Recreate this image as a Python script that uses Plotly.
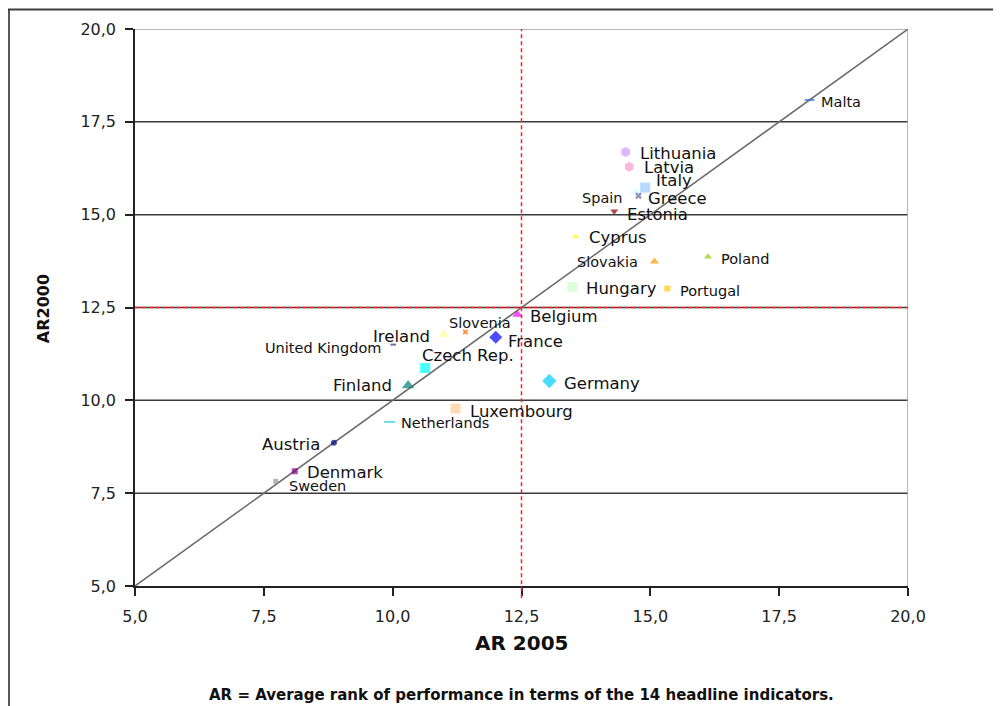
import plotly.graph_objects as go

# ---- data ----
countries = ["Malta", "Lithuania", "Latvia", "Italy", "Greece", "Spain", "Estonia",
             "Cyprus", "Slovakia", "Poland", "Hungary", "Portugal", "Belgium",
             "Slovenia", "Ireland", "France", "United Kingdom", "Czech Rep.",
             "Finland", "Germany", "Luxembourg", "Netherlands", "Austria",
             "Denmark", "Sweden"]
ar2005 = [18.09, 14.52, 14.59, 14.90, 14.71, 14.77, 14.30,
          13.55, 15.08, 16.12, 13.49, 15.33, 12.42,
          11.41, 10.99, 12.00, 10.01, 10.63,
          10.30, 13.04, 11.22, 9.94, 8.86,
          8.10, 7.73]
ar2000 = [18.09, 16.69, 16.29, 15.73, 15.62, 15.51, 15.09,
          14.41, 13.74, 13.87, 13.05, 13.01, 12.31,
          11.84, 11.77, 11.70, 11.50, 10.87,
          10.40, 10.52, 9.78, 9.42, 8.86,
          8.09, 7.82]
tick_vals = [5.0, 7.5, 10.0, 12.5, 15.0, 17.5, 20.0]
grid_vals = [7.5, 10.0, 12.5, 15.0, 17.5]
reference_value = 12.5
axis_min, axis_max = 5.0, 20.0

# ---- styles ----
colors = ["#3366CC", "#CC99FF", "#FF99CC", "#99CCFF", "#CCFFFF", "#666699", "#800000",
          "#FFFF00", "#FF9900", "#99CC00", "#CCFFCC", "#FFCC00", "#FF00FF",
          "#FF6600", "#FFFF99", "#0000FF", "#333399", "#00FFFF",
          "#008080", "#00CCFF", "#FFCC99", "#33CCCC", "#000080",
          "#800080", "#969696"]
symbols = ["line-ew", "hexagon", "hexagon", "square", "triangle-up", "x", "triangle-down",
           "triangle-up", "triangle-up", "triangle-up", "square", "square", "triangle-up",
           "x", "triangle-up", "diamond", "line-ew", "square",
           "triangle-up", "diamond", "square", "line-ew", "circle",
           "square", "square"]
sizes = [7, 10, 10, 10, 9, 6, 7,
         6, 8, 7, 10, 6, 9,
         5, 10, 10, 4, 10,
         11, 11, 10, 8, 6,
         6, 5]
line_w = [2 if s == "line-ew" else 0 for s in symbols]

# label placement: (anchor, xshift, yshift, big?)
label_pos = {
    "Malta": ("left", 9, -2, False),
    "Lithuania": ("left", 12, -2, True),
    "Latvia": ("left", 13, -1, True),
    "Italy": ("left", 9, 7, True),
    "Greece": ("left", 11, -7, True),
    "Spain": ("right", -13, -2, False),
    "Estonia": ("left", 11, -3, True),
    "Cyprus": ("left", 11, -1, True),
    "Slovakia": ("right", -14, -1, False),
    "Poland": ("left", 11, -2, False),
    "Hungary": ("left", 11, -1, True),
    "Portugal": ("left", 11, -2, False),
    "Belgium": ("left", 11, -2, True),
    "Slovenia": ("left", -18, 9, False),
    "Ireland": ("right", -12, -2, True),
    "France": ("left", 10, -4, True),
    "United Kingdom": ("right", -10, -3, False),
    "Czech Rep.": ("left", -5, 13, True),
    "Finland": ("right", -14, 0, True),
    "Germany": ("left", 13, -2, True),
    "Luxembourg": ("left", 12, -3, True),
    "Netherlands": ("left", 9, -1, False),
    "Austria": ("right", -12, -2, True),
    "Denmark": ("left", 10, -1, True),
    "Sweden": ("left", 11, -5, False),
}

FONT = "DejaVu Sans"

fig = go.Figure()

# diagonal reference line
fig.add_trace(go.Scatter(x=[axis_min, axis_max], y=[axis_min, axis_max], mode="lines",
                         line=dict(color="#6b6b6b", width=1.5), hoverinfo="skip",
                         showlegend=False))

fig.add_trace(go.Scatter(
    x=ar2005, y=ar2000, mode="markers", text=countries, showlegend=False,
    marker=dict(symbol=symbols, size=sizes, color=colors,
                line=dict(color=colors, width=line_w)),
))

shapes = []
# horizontal gridlines
for g in grid_vals:
    shapes.append(dict(type="line", xref="x", yref="y", x0=axis_min, x1=axis_max, y0=g, y1=g,
                       line=dict(color="#3a3a3a", width=1.5), layer="below"))
# plot area top/right border (gray)
shapes.append(dict(type="line", xref="x", yref="y", x0=axis_min, x1=axis_max, y0=axis_max, y1=axis_max,
                   line=dict(color="#a0a0a0", width=1.5), layer="below"))
shapes.append(dict(type="line", xref="x", yref="y", x0=axis_max, x1=axis_max, y0=axis_min, y1=axis_max,
                   line=dict(color="#a0a0a0", width=1.5), layer="below"))
# red dashed reference lines
shapes.append(dict(type="line", xref="x", yref="y", x0=axis_min, x1=axis_max,
                   y0=reference_value, y1=reference_value,
                   line=dict(color="#ff2020", width=1.5, dash="4px,3px"), layer="above"))
shapes.append(dict(type="line", xref="x", yref="paper", x0=reference_value, x1=reference_value,
                   y0=-0.022, y1=1.0,
                   line=dict(color="#ff2020", width=1.5, dash="4px,3px"), layer="above"))
# outer frame (left and top edges visible)
shapes.append(dict(type="line", xref="paper", yref="paper", x0=-0.1643, x1=1.2,
                   y0=1.0350, y1=1.0350, line=dict(color="#404040", width=2)))
shapes.append(dict(type="line", xref="paper", yref="paper", x0=-0.1630, x1=-0.1630,
                   y0=1.0350, y1=-0.3, line=dict(color="#202020", width=1.5)))

annotations = []
for name, xv, yv in zip(countries, ar2005, ar2000):
    anchor, dx, dy, big = label_pos[name]
    annotations.append(dict(x=xv, y=yv, xref="x", yref="y", text=name, showarrow=False,
                            xanchor=anchor, yanchor="middle", xshift=dx, yshift=dy,
                            font=dict(family=FONT, size=16.5 if big else 14.5, color="#111")))
# axis titles and footnote
annotations.append(dict(x=0.5, y=-0.1023, xref="paper", yref="paper", text="<b>AR 2005</b>",
                        showarrow=False, xanchor="center", yanchor="middle",
                        font=dict(family=FONT, size=20, color="#111")))
annotations.append(dict(x=-0.119, y=0.497, xref="paper", yref="paper", text="<b>AR2000</b>",
                        showarrow=False, xanchor="center", yanchor="middle", textangle=-90,
                        font=dict(family=FONT, size=16, color="#111")))
annotations.append(dict(x=0.5, y=-0.1957, xref="paper", yref="paper",
                        text="<b>AR = Average rank of performance in terms of the 14 headline indicators.</b>",
                        showarrow=False, xanchor="center", yanchor="middle",
                        font=dict(family=FONT, size=15, color="#111")))

# the page adds an 8px body margin, so the figure is 8px smaller and margins shifted
fig.update_layout(
    width=993, height=698,
    margin=dict(l=127, r=93, t=21, b=120),
    paper_bgcolor="white", plot_bgcolor="white",
    separators=", ",
    shapes=shapes, annotations=annotations,
    showlegend=False,
)
axis_common = dict(range=[axis_min, axis_max], tickvals=tick_vals, tickformat=".1f",
                   showgrid=False, zeroline=False, showline=True, linecolor="#222",
                   linewidth=1.5, ticks="outside", ticklen=8, tickcolor="#222", tickwidth=1.5,
                   tickfont=dict(family=FONT, size=16, color="#222"))
fig.update_xaxes(**axis_common, ticklabelstandoff=7)
fig.update_yaxes(**axis_common, ticklabelstandoff=6)

fig.write_html("out.html")
